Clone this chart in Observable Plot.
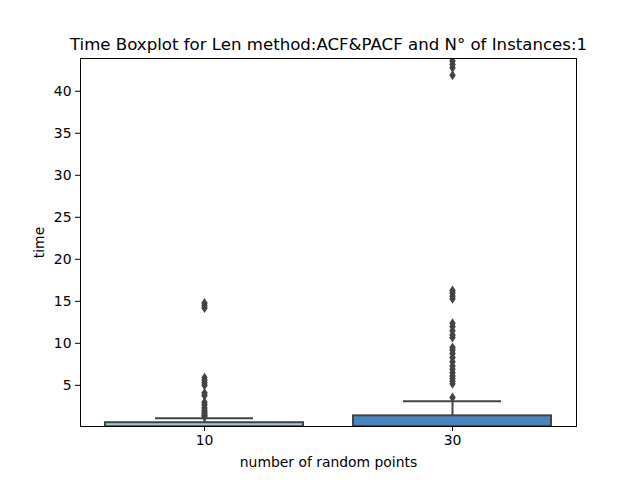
<!DOCTYPE html>
<html>
<head>
<meta charset="utf-8">
<script src="https://cdn.jsdelivr.net/npm/d3@7"></script>
<script src="https://cdn.jsdelivr.net/npm/@observablehq/plot@0.6"></script>
<style>
  body { margin: 0; background: white; }
</style>
</head>
<body>
<div id="chart"></div>
<script>
const groups = ["10", "30"];
const q1 = [0.05, 0.05];
const median = [0.1, 0.15];
const q3 = [0.55, 1.37];
const whiskerHi = [1.07, 3.1];
const boxColors = ["#9cc6dc", "#4787bb"];

const outliers10 = [14.2, 14.5, 14.8, 5.9, 5.6, 5.3, 5.0, 4.1, 3.8, 3.0, 2.7, 2.3, 2.0, 1.8, 1.6, 1.4, 1.25];
const outliers30 = [3.55, 5.2, 5.5, 5.8, 6.1, 6.5, 6.9, 7.3, 7.8, 8.3, 8.8, 9.2, 9.5,
  10.7, 11.0, 11.5, 12.0, 12.4, 15.3, 15.6, 16.0, 16.3, 41.9, 42.8, 43.2, 43.6, 44.0];

const yTicks = [5, 10, 15, 20, 25, 30, 35, 40];
const title = "Time Boxplot for Len method:ACF&PACF and N° of Instances:1";

const boxes = groups.map((k, i) => ({
  k, q1: q1[i], median: median[i], q3: q3[i], hi: whiskerHi[i], color: boxColors[i]
}));
const fliers = [
  ...outliers10.map(v => ({k: "10", v})),
  ...outliers30.map(v => ({k: "30", v}))
];

// seaborn's thin diamond flier marker
const thinDiamond = {
  draw(ctx, size) {
    const r = Math.sqrt(size / Math.PI);
    ctx.moveTo(0, -r);
    ctx.lineTo(r * 0.65, 0);
    ctx.lineTo(0, r);
    ctx.lineTo(-r * 0.65, 0);
    ctx.closePath();
  }
};

const edge = "#444444";

const chart = Plot.plot({
  width: 640,
  height: 480,
  marginLeft: 80,
  marginRight: 64,
  marginTop: 58,
  marginBottom: 54,
  style: {
    background: "white",
    color: "black",
    fontFamily: "DejaVu Sans",
    fontSize: "13.9px"
  },
  x: { type: "band", domain: groups, paddingInner: 0.2, paddingOuter: 0.1 },
  y: { domain: [0.1, 43.9] },
  marks: [
    Plot.barY(boxes, {x: "k", y1: "q1", y2: "q3", fill: "color", stroke: edge, strokeWidth: 2, clip: true}),
    Plot.tickY(boxes, {x: "k", y: "median", stroke: edge, strokeWidth: 2, clip: true}),
    Plot.ruleX(boxes, {x: "k", y1: "q3", y2: "hi", stroke: edge, strokeWidth: 2, clip: true}),
    Plot.tickY(boxes, {x: "k", y: "hi", stroke: edge, strokeWidth: 2, insetLeft: 50, insetRight: 50, clip: true}),
    Plot.dot(fliers, {x: "k", y: "v", symbol: thinDiamond, r: 5, fill: edge, stroke: "none", clip: true}),
    Plot.frame({stroke: "black", strokeWidth: 1}),
    Plot.axisY({ticks: yTicks, tickSize: 5, tickPadding: 4, label: "time", labelAnchor: "center", labelArrow: "none", labelOffset: 46}),
    Plot.axisX({tickSize: 5, tickPadding: 4, label: "number of random points", labelAnchor: "center", labelArrow: "none", labelOffset: 40}),
    Plot.text([title], {frameAnchor: "top", lineAnchor: "middle", dy: -14, fontSize: 16.6, fill: "black"})
  ]
});

document.getElementById("chart").appendChild(chart);
</script>
</body>
</html>
